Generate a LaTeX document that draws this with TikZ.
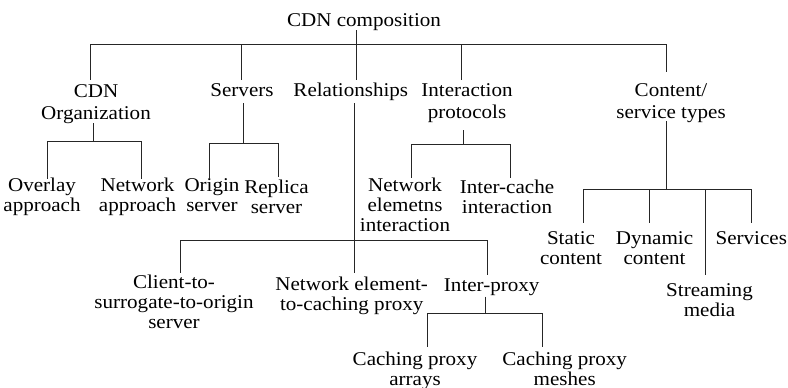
\documentclass[tikz,border=0pt]{standalone}
\usepackage{fontspec}
\setmainfont{Liberation Serif}[FakeStretch=1.08]
\usetikzlibrary{calc}
% stacked lines whose base is the first line's baseline
\newcommand{\rows}[1]{\begin{tabular}[t]{@{}c@{}}#1\end{tabular}}
\tikzset{
  lbl/.style={inner sep=0pt, anchor=base,
    font=\fontsize{19.5}{20}\selectfont},
  toplbl/.style={lbl, font=\fontsize{19.5}{21.5}\selectfont},
  tree/.style={line width=0.9pt, draw=black!85}
}
\begin{document}
\begin{tikzpicture}[x=1pt, y=-1pt]
\useasboundingbox (0,0) rectangle (788,388);

% root and first level
\node[lbl] (R) at (364,26) {CDN composition};
\node[toplbl] (A) at (96,97.7) {\rows{CDN\\Organization}};
\node[toplbl] (B) at (242,96.3) {Servers};
\node[toplbl] (C) at (350.8,96.5) {Relationships};
\node[toplbl] (D) at (467,96.7) {\rows{Interaction\\protocols}};
\node[toplbl] (E) at (671,96.7) {\rows{Content/\\service types}};

% second level
\node[lbl] (O1) at (42,191) {\rows{Overlay\\approach}};
\node[lbl] (O2) at (137.5,191) {\rows{Network\\approach}};
\node[lbl] (S1) at (212,191.3) {\rows{Origin\\server}};
\node[lbl] (S2) at (276.5,193) {\rows{Replica\\server}};
\node[lbl] (N1) at (405,191) {\rows{Network\\elemetns\\interaction}};
\node[lbl] (N2) at (507,193.3) {\rows{Inter-cache\\interaction}};
\node[lbl] (T1) at (571,244) {\rows{Static\\content}};
\node[lbl] (T2) at (654.5,244) {\rows{Dynamic\\content}};
\node[lbl] (T3) at (709.5,296) {\rows{Streaming\\media}};
\node[lbl] (T4) at (751.3,244) {Services};
\node[lbl] (K1) at (174,288.3) {\rows{Client-to-\\surrogate-to-origin\\server}};
\node[lbl] (K2) at (351.7,290) {\rows{Network element-\\to-caching proxy}};
\node[lbl] (K3) at (491.7,291.7) {Inter-proxy};
\node[lbl] (P1) at (415,365) {\rows{Caching proxy\\arrays}};
\node[lbl] (P2) at (564.7,365) {\rows{Caching proxy\\meshes}};

% root connectors
\coordinate (r0) at ($(R.base)+(-8,18)$);
\draw[tree] ($(R.base)+(-8,4)$) -- ($(C.base)+(5.2,-16.5)$);
\draw[tree] (r0) -| ($(A.base)+(-6,-17.7)$);
\draw[tree] (r0) -| ($(B.base)+(-1,-16.3)$);
\draw[tree] (r0) -| ($(D.base)+(-5.3,-16.7)$);
\draw[tree] (r0) -| ($(E.base)+(-4.3,-25)$);

% CDN organization
\draw[tree] ($(A.base)+(-2.7,25.6)$) -- ++(0,17.7) coordinate (a0);
\draw[tree] (a0) -| ($(O1.base)+(5.7,-12)$);
\draw[tree] (a0) -| ($(O2.base)+(4.2,-12)$);

% servers
\draw[tree] ($(B.base)+(1.7,7)$) -- ++(0,40) coordinate (b0);
\draw[tree] (b0) -| ($(S1.base)+(-3,-12.3)$);
\draw[tree] (b0) -| ($(S2.base)+(1.8,-16.3)$);

% relationships
\draw[tree] ($(C.base)+(3.2,6.8)$) -- ($(K2.base)+(2.3,-17)$);
\coordinate (c0) at ($(C.base)+(3.2,144.2)$);
\draw[tree] (c0) -| ($(K1.base)+(6,-15)$);
\draw[tree] (c0) -| ($(K3.base)+(-4.4,-16.7)$);

% inter-proxy
\draw[tree] ($(K3.base)+(-6,5)$) -- ++(0,16.6) coordinate (k0);
\draw[tree] (k0) -| ($(P1.base)+(12.3,-18.3)$);
\draw[tree] (k0) -| ($(P2.base)+(-22,-18.3)$);

% interaction protocols
\draw[tree] ($(D.base)+(-3.7,33.3)$) -- ++(0,14.3) coordinate (d0);
\draw[tree] (d0) -| ($(N1.base)+(6.7,-12.7)$);
\draw[tree] (d0) -| ($(N2.base)+(3,-15)$);

% content / service types
\draw[tree] ($(E.base)+(-4.3,24.3)$) -- ++(0,68) coordinate (e0);
\draw[tree] (e0) -| ($(T1.base)+(12.3,-21)$);
\draw[tree] (e0) -| ($(T2.base)+(-5.2,-21)$);
\draw[tree] (e0) -| ($(T3.base)+(-4.5,-21)$);
\draw[tree] (e0) -| ($(T4.base)+(0.4,-21)$);
\end{tikzpicture}
\end{document}
